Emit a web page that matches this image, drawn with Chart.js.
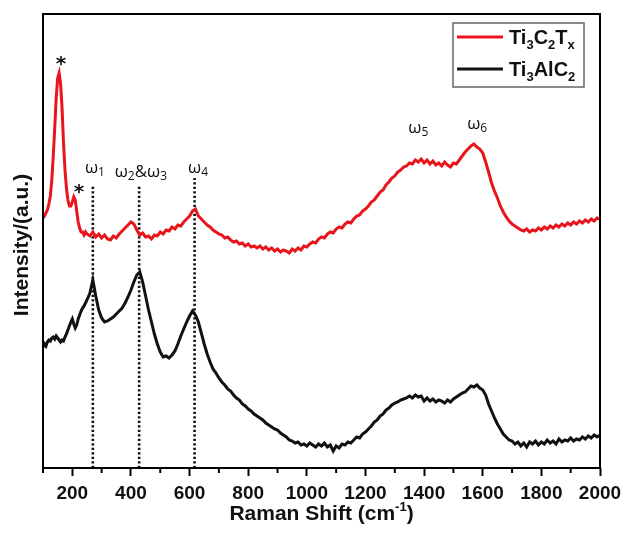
<!DOCTYPE html>
<html>
<head>
<meta charset="utf-8">
<script src="https://cdn.jsdelivr.net/npm/chart.js@4.4.1/dist/chart.umd.min.js"></script>
<style>
html,body{margin:0;padding:0;background:#fff;}
#wrap{width:622px;height:533px;position:relative;}
</style>
</head>
<body>
<div id="wrap"><canvas id="c" width="622" height="533"></canvas></div>
<script>
// ---- Data ----
const ramanShift = [
 100,105,110,115,120,125,130,135,140,145,150,155,160,165,170,175,180,185,190,195,200,205,210,215,220,225,230,235,240,245,250,
 260,270,280,290,300,310,320,330,340,350,360,370,380,390,400,410,420,430,440,450,460,470,480,490,500,
 510,520,530,540,550,560,570,580,590,600,610,620,630,640,650,660,670,680,690,700,
 710,720,730,740,750,760,770,780,790,800,810,820,830,840,850,860,870,880,890,900,
 910,920,930,940,950,960,970,980,990,1000,1010,1020,1030,1040,1050,1060,1070,1080,1090,1100,
 1110,1120,1130,1140,1150,1160,1170,1180,1190,1200,1210,1220,1230,1240,1250,1260,1270,1280,1290,1300,
 1310,1320,1330,1340,1350,1360,1370,1380,1390,1400,1410,1420,1430,1440,1450,1460,1470,1480,1490,1500,
 1510,1520,1530,1540,1550,1560,1570,1580,1590,1600,1610,1620,1630,1640,1650,1660,1670,1680,1690,1700,
 1710,1720,1730,1740,1750,1760,1770,1780,1790,1800,1810,1820,1830,1840,1850,1860,1870,1880,1890,1900,
 1910,1920,1930,1940,1950,1960,1970,1980,1990,2000
];
const ti3c2txIntensity = [
 250,252,255,258,264,272,288,312,340,370,390,395,384,360,325,298,280,268,262,262,266,271,268,257,246,240,236,236,233,236,234,
 232,236,231,234,230,233,229,228,232,230,234,237,240,243,246,244,238,233,235,231,232,229,233,232,236,
 234,238,237,241,239,243,242,246,249,252,257,259,252,249,246,243,241,238,236,234,
 233,230,231,228,226,227,224,225,222,224,221,222,220,222,219,221,218,220,217,219,
 216,218,217,215,219,217,220,218,222,221,224,226,225,229,231,230,234,236,235,239,
 241,240,244,246,245,249,252,253,257,259,262,266,268,272,276,278,283,286,290,292,
 296,298,301,302,305,304,308,306,309,305,308,304,307,303,305,302,306,303,301,305,
 304,308,312,316,319,322,324,321,319,315,306,296,285,277,270,262,256,251,247,244,
 242,240,238,237,239,236,238,237,240,238,241,239,242,240,243,241,244,242,245,243,
 246,244,247,245,248,246,249,247,250,249
];
const ti3alc2Intensity = [
 121,124,122,126,128,127,130,131,129,132,130,128,126,128,127,131,134,138,142,146,149,144,140,143,149,153,157,160,162,165,168,
 175,188,172,158,150,146,147,149,151,154,157,160,165,171,178,186,193,196,186,172,158,146,134,124,116,
 111,112,110,113,117,124,132,139,146,152,157,153,146,135,124,114,106,99,95,90,
 86,83,79,77,73,70,68,64,62,59,57,54,52,50,48,45,43,41,39,38,
 35,33,31,28,27,25,26,23,24,22,25,23,21,24,22,25,21,23,17,22,
 20,24,23,26,25,28,31,30,34,36,39,42,46,48,52,54,58,60,63,65,
 66,68,69,70,72,70,73,71,72,67,70,67,69,66,68,67,65,68,66,69,
 71,73,75,76,79,82,81,83,80,78,73,64,57,50,44,39,34,31,28,27,
 24,26,22,25,21,26,24,27,23,26,24,28,25,27,24,29,26,28,27,30,
 27,29,28,31,29,32,30,33,31,33
];
const seriesNames = ['Ti_3C_2T_x', 'Ti_3AlC_2'];
const seriesColors = ['rgb(232,22,28)', '#111111'];
// vibrational modes marked by dotted lines
const modeShifts = [270, 428, 617];
const modeLineTops = [283, 283, 290];
// peak annotations ("_" marks a one-character subscript)
const peakLabels = ['*', '*', 'ω_1', 'ω_2&ω_3', 'ω_4', 'ω_5', 'ω_6'];
const peakLabelX = [161, 223, 277, 434, 629, 1380, 1581];
const peakLabelY = [410, 282, 300, 296, 300, 340, 344];
const xTickValues = [200, 400, 600, 800, 1000, 1200, 1400, 1600, 1800, 2000];

// ---- helpers ----
function toPoints(xs, ys){ return xs.map((x,i)=>({x:x, y:ys[i]})); }
function parseRich(s){
  const parts=[]; let i=0;
  while(i<s.length){
    if(s[i]==='_' && i+1<s.length){ parts.push({t:s[i+1],sub:true}); i+=2; }
    else { if(parts.length && !parts[parts.length-1].sub) parts[parts.length-1].t+=s[i]; else parts.push({t:s[i],sub:false}); i++; }
  }
  return parts;
}
function richWidth(ctx, parts, font, subFont){
  let w=0; parts.forEach(p=>{ ctx.font=p.sub?subFont:font; w+=ctx.measureText(p.t).width; }); return w;
}
function drawRich(ctx, s, x, y, font, subFont, subDy, align){
  const parts=parseRich(s);
  const w=richWidth(ctx, parts, font, subFont);
  let cx = align==='center' ? x-w/2 : x;
  ctx.textAlign='left'; ctx.textBaseline='alphabetic';
  parts.forEach(p=>{ ctx.font=p.sub?subFont:font; ctx.fillText(p.t, cx, y+(p.sub?subDy:0)); cx+=ctx.measureText(p.t).width; });
}

const datasets = [
  { label: seriesNames[0], data: toPoints(ramanShift, ti3c2txIntensity), borderColor: seriesColors[0], borderWidth: 3, pointRadius:0, tension:0, order:2 },
  { label: seriesNames[1], data: toPoints(ramanShift, ti3alc2Intensity), borderColor: seriesColors[1], borderWidth: 3, pointRadius:0, tension:0, order:1 }
];
modeShifts.forEach((m,i)=>{
  datasets.push({ label:'mode'+i, data:[{x:m,y:0},{x:m,y:modeLineTops[i]}], borderColor:'#111', borderWidth:2.6, borderDash:[2.3,2.2], borderCapStyle:'butt', pointRadius:0, order:3 });
});

const decor = {
  id:'decor',
  afterDraw(chart){
    const ctx=chart.ctx, a=chart.chartArea, xs=chart.scales.x, ys=chart.scales.y;
    ctx.save();
    // frame
    ctx.strokeStyle='#000'; ctx.lineWidth=2;
    ctx.strokeRect(a.left, a.top, a.right-a.left, a.bottom-a.top);
    // minor ticks
    ctx.lineWidth=2;
    xs.ticks.forEach(t=>{
      if(xTickValues.indexOf(t.value)<0){
        const px=xs.getPixelForValue(t.value);
        ctx.beginPath(); ctx.moveTo(px, a.bottom); ctx.lineTo(px, a.bottom+5); ctx.stroke();
      }
    });
    // peak annotations
    ctx.fillStyle='#111';
    peakLabels.forEach((s,i)=>{
      const px=xs.getPixelForValue(peakLabelX[i]), py=ys.getPixelForValue(peakLabelY[i]);
      if(s==='*') drawRich(ctx, s, px, py+12, 'bold 20px "DejaVu Sans"', '12px "DejaVu Sans"', 4, 'center');
      else drawRich(ctx, s, px, py+5, '17px "Open Sans"', '12px "Open Sans"', 3, 'center');
    });
    // legend
    const lx=453, ly=23, lw=131, lh=64;
    ctx.strokeStyle='#666'; ctx.lineWidth=1.5;
    ctx.strokeRect(lx, ly, lw, lh);
    [37, 69].forEach((yy,i)=>{
      ctx.strokeStyle=seriesColors[i]; ctx.lineWidth=3;
      ctx.beginPath(); ctx.moveTo(457, yy); ctx.lineTo(503, yy); ctx.stroke();
      ctx.fillStyle='#111';
      drawRich(ctx, seriesNames[i], 509, yy+7, 'bold 20px "Liberation Sans"', 'bold 13px "Liberation Sans"', 5, 'left');
    });
    // axis titles
    ctx.fillStyle='#111';
    const tx=(a.left+a.right)/2;
    const big='bold 21px "Liberation Sans"', small='bold 13px "Liberation Sans"';
    ctx.font=big;
    const t1='Raman Shift (cm', t2='-1', t3=')';
    const w1=ctx.measureText(t1).width, w3=ctx.measureText(t3).width;
    ctx.font=small; const w2=ctx.measureText(t2).width;
    let sx=tx-(w1+w2+w3)/2, by=520;
    ctx.textAlign='left'; ctx.textBaseline='alphabetic';
    ctx.font=big; ctx.fillText(t1, sx, by); sx+=w1;
    ctx.font=small; ctx.fillText(t2, sx, by-9); sx+=w2;
    ctx.font=big; ctx.fillText(t3, sx, by);
    ctx.save();
    ctx.translate(22, (a.top+a.bottom)/2+4);
    ctx.rotate(-Math.PI/2);
    ctx.textAlign='center'; ctx.textBaseline='middle';
    ctx.font=big;
    ctx.fillText('Intensity/(a.u.)', 0, 0);
    ctx.restore();
    ctx.restore();
  }
};

new Chart(document.getElementById('c'), {
  type:'line',
  data:{ datasets: datasets },
  options:{
    responsive:false, animation:false, devicePixelRatio:1,
    layout:{ padding:{ left:43, right:22, top:14, bottom:0 } },
    plugins:{ legend:{display:false}, tooltip:{enabled:false} },
    scales:{
      x:{
        type:'linear', min:100, max:2000,
        afterFit(s){ s.height=65; s.paddingLeft=0; s.paddingRight=0; },
        border:{ display:false },
        grid:{ drawOnChartArea:false, drawTicks:true, tickLength:8, tickWidth:2,
               tickColor:(c)=> (c.tick && xTickValues.indexOf(c.tick.value)>=0) ? '#000' : 'rgba(0,0,0,0)' },
        ticks:{ stepSize:100, autoSkip:false, maxRotation:0, padding:6, color:'#111',
                font:{ family:'"Liberation Sans"', size:19, weight:'bold' },
                callback:(v)=> xTickValues.indexOf(v)>=0 ? String(v) : '' }
      },
      y:{ type:'linear', min:0, max:454, display:false }
    }
  },
  plugins:[decor]
});
</script>
</body>
</html>
